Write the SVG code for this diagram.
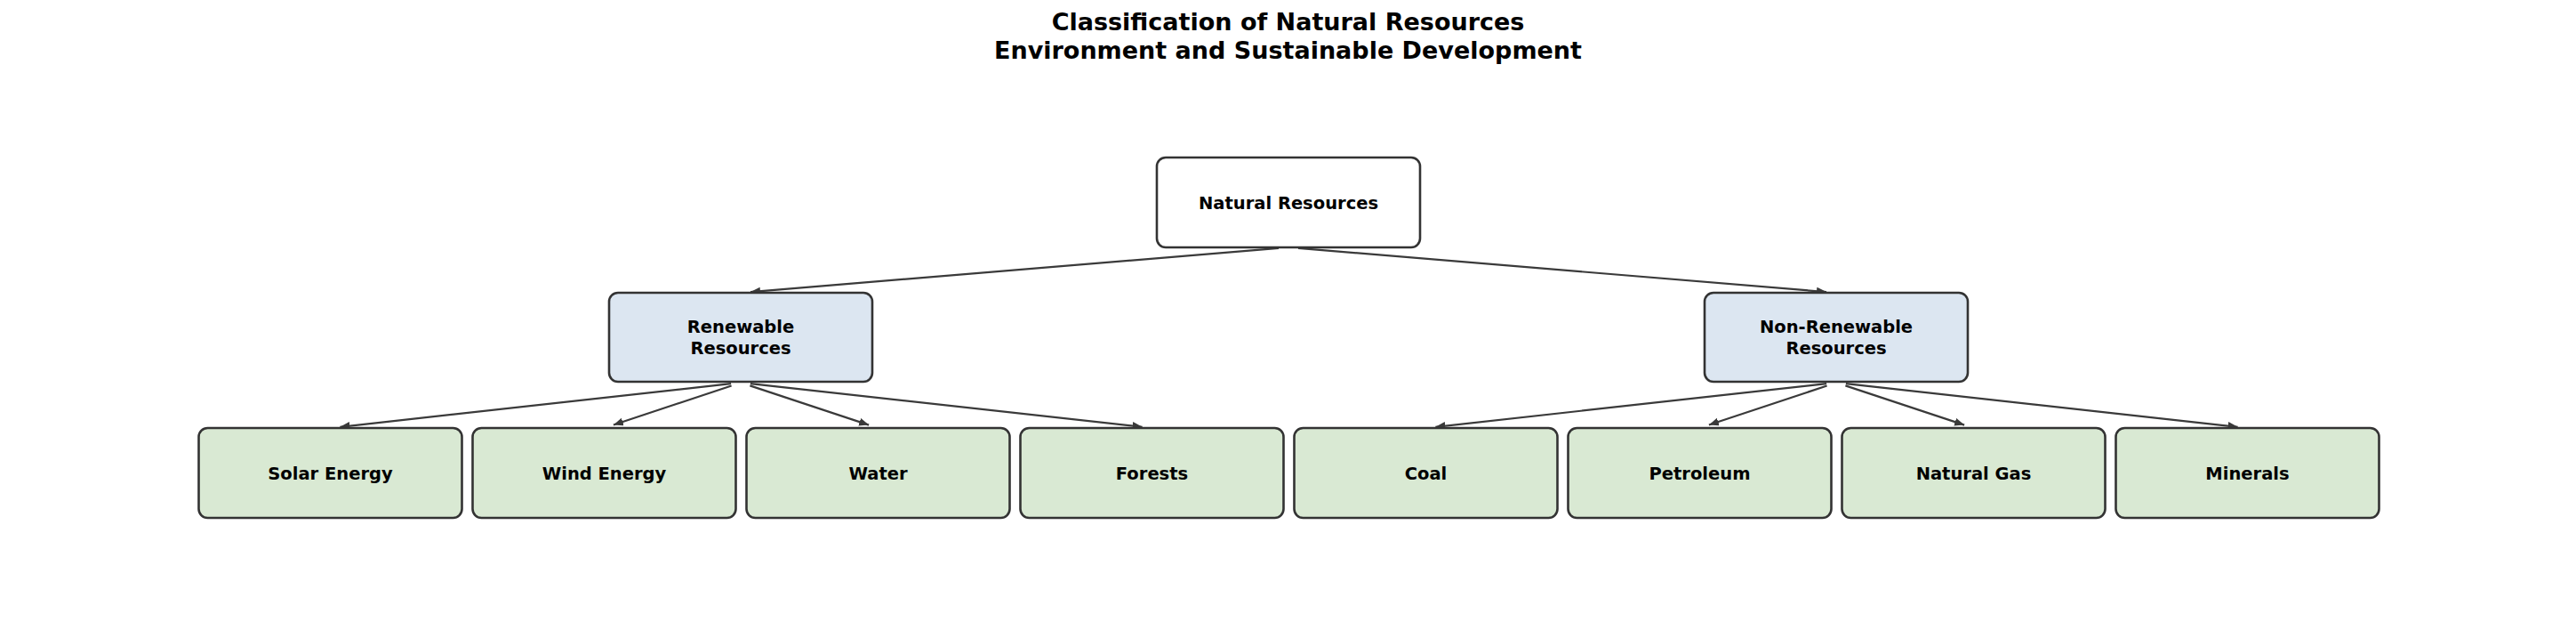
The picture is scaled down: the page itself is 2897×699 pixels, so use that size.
<svg xmlns="http://www.w3.org/2000/svg" width="2897" height="699" viewBox="0 0 2897 699">
<defs>
<style>
.title{font-family:"DejaVu Sans",sans-serif;font-weight:bold;font-size:27px;fill:#000;text-anchor:middle}
.lbl{font-family:"DejaVu Sans",sans-serif;font-weight:bold;font-size:19.5px;fill:#000;text-anchor:middle}
.box{stroke:#333333;stroke-width:2.6}
.root{fill:#ffffff}
.mid{fill:#dce6f1}
.leaf{fill:#d9e9d3}
.edge{stroke:#3a3a3a;stroke-width:2.2;fill:none;marker-end:url(#ah)}
</style>
<marker id="ah" markerUnits="userSpaceOnUse" markerWidth="12" markerHeight="10" refX="11" refY="4.5" orient="auto">
<path d="M0,0 L11,4.5 L0,9 z" fill="#3a3a3a"/>
</marker>
</defs>
<rect width="2897" height="699" fill="#ffffff"/>
<g id="title">
<text class="title" x="1448.5" y="34">Classification of Natural Resources</text>
<text class="title" x="1448.5" y="66">Environment and Sustainable Development</text>
</g>
<g id="connectors">
<line class="edge" x1="1438" y1="278.9" x2="844" y2="328.1"/>
<line class="edge" x1="1460" y1="278.9" x2="2054" y2="328.1"/>
<line class="edge" x1="822.1" y1="431.2" x2="382.4" y2="479.8"/>
<line class="edge" x1="822.6" y1="433.5" x2="689.9" y2="477.5"/>
<line class="edge" x1="843.4" y1="433.4" x2="977.1" y2="477.6"/>
<line class="edge" x1="843.9" y1="431.2" x2="1284.6" y2="479.8"/>
<line class="edge" x1="2054.1" y1="431.2" x2="1614.4" y2="479.8"/>
<line class="edge" x1="2054.6" y1="433.5" x2="1921.9" y2="477.5"/>
<line class="edge" x1="2075.4" y1="433.4" x2="2209.1" y2="477.6"/>
<line class="edge" x1="2075.9" y1="431.2" x2="2516.6" y2="479.8"/>
</g>
<g id="natural-resources">
<rect class="box root" x="1301" y="177" width="296" height="101" rx="10"/>
<text class="lbl" x="1449" y="234.5">Natural Resources</text>
</g>
<g id="renewable">
<rect class="box mid" x="685" y="329" width="296" height="100" rx="10"/>
<text class="lbl" x="833" y="374.3">Renewable</text>
<text class="lbl" x="833" y="397.7">Resources</text>
</g>
<g id="non-renewable">
<rect class="box mid" x="1917" y="329" width="296" height="100" rx="10"/>
<text class="lbl" x="2065" y="374.3">Non-Renewable</text>
<text class="lbl" x="2065" y="397.7">Resources</text>
</g>
<g id="solar">
<rect class="box leaf" x="223.5" y="481" width="296" height="101" rx="10"/>
<text class="lbl" x="371.5" y="538.5">Solar Energy</text>
</g>
<g id="wind">
<rect class="box leaf" x="531.5" y="481" width="296" height="101" rx="10"/>
<text class="lbl" x="679.5" y="538.5">Wind Energy</text>
</g>
<g id="water">
<rect class="box leaf" x="839.5" y="481" width="296" height="101" rx="10"/>
<text class="lbl" x="987.5" y="538.5">Water</text>
</g>
<g id="forests">
<rect class="box leaf" x="1147.5" y="481" width="296" height="101" rx="10"/>
<text class="lbl" x="1295.5" y="538.5">Forests</text>
</g>
<g id="coal">
<rect class="box leaf" x="1455.5" y="481" width="296" height="101" rx="10"/>
<text class="lbl" x="1603.5" y="538.5">Coal</text>
</g>
<g id="petroleum">
<rect class="box leaf" x="1763.5" y="481" width="296" height="101" rx="10"/>
<text class="lbl" x="1911.5" y="538.5">Petroleum</text>
</g>
<g id="natural-gas">
<rect class="box leaf" x="2071.5" y="481" width="296" height="101" rx="10"/>
<text class="lbl" x="2219.5" y="538.5">Natural Gas</text>
</g>
<g id="minerals">
<rect class="box leaf" x="2379.5" y="481" width="296" height="101" rx="10"/>
<text class="lbl" x="2527.5" y="538.5">Minerals</text>
</g>
</svg>
